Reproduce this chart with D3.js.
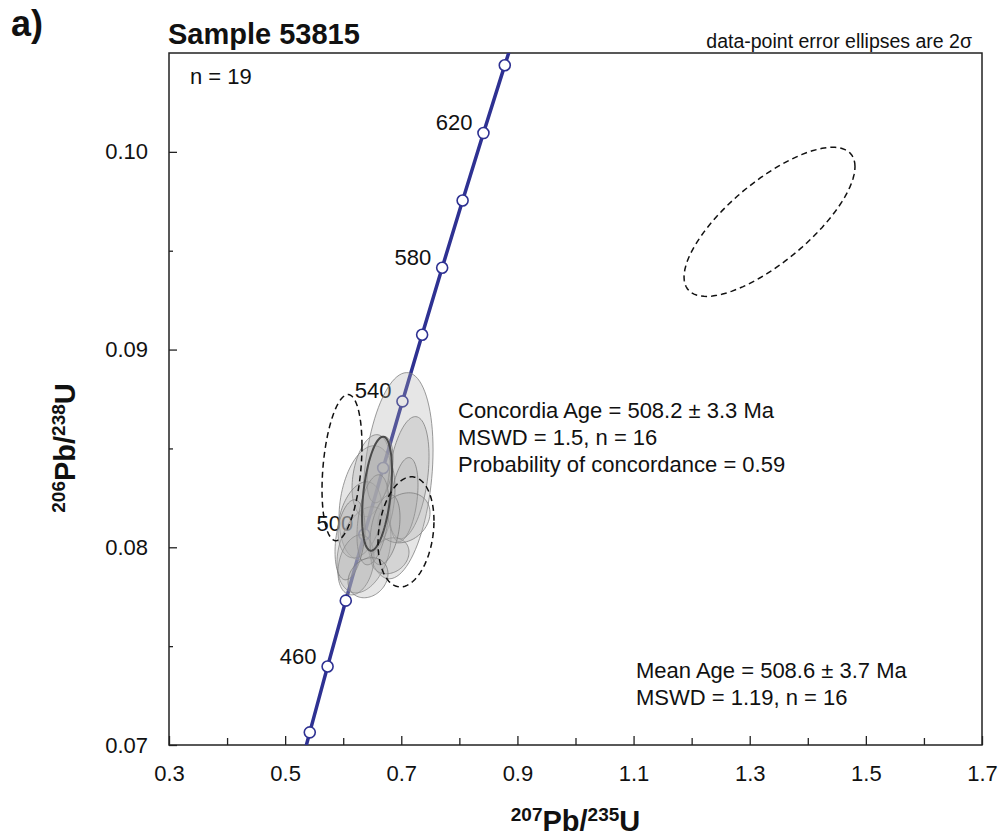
<!DOCTYPE html>
<html><head><meta charset="utf-8">
<script src="https://cdn.jsdelivr.net/npm/d3@7"></script>
<style>
body{margin:0;background:#fff}
svg{display:block}
text{font-family:Arial,"Liberation Sans",sans-serif;fill:#111}
</style>
</head><body>
<svg id="chart" width="1005" height="840"></svg>
<script>
// ---- Concordia curve (ratios) ----
const concordiaAges = [420,440,460,480,500,520,540,560,580,600,620,640,660];
const concordiaX    = [0.5123,0.5424,0.5731,0.6044,0.6363,0.6688,0.7020,0.7359,0.7704,0.8056,0.8415,0.8782,0.9155];
const concordiaY    = [0.06732,0.07064,0.07397,0.07730,0.08065,0.08401,0.08738,0.09075,0.09414,0.09754,0.10095,0.10438,0.10781];
const markerAges    = [440,460,480,500,520,540,560,580,600,620,640];
const labelAges     = [460,500,540,580,620];

// ---- Data-point error ellipses (centre, half-extent in x and y, correlation) ----
const ellX   = [0.6944,0.7116,0.7047,0.6410,0.6479,0.6358,0.6806,0.7047,0.6289,0.6220,0.6634,0.6513,0.6117,0.6720,0.6427,0.6582];
const ellY   = [0.08362,0.08352,0.08241,0.08225,0.08362,0.07987,0.07957,0.08149,0.08139,0.07911,0.08392,0.08139,0.08038,0.08089,0.07846,0.08271];
const ellA   = [0.0603,0.0362,0.0241,0.0482,0.0327,0.0465,0.0327,0.0448,0.0379,0.0310,0.0224,0.0276,0.0258,0.0258,0.0344,0.0258];
const ellB   = [0.005215,0.003089,0.002127,0.002886,0.002076,0.002177,0.000911,0.001266,0.001924,0.001519,0.001671,0.002278,0.002025,0.001772,0.001013,0.002886];
const ellRho = [0.25,0.35,0.35,0.25,0.3,0.3,0.2,0.2,0.3,0.25,0.35,0.35,0.3,0.35,0.2,0.4];
const ellBold = [false,false,false,false,false,false,false,false,false,false,false,false,false,false,false,true];

// ---- Excluded (dashed) ellipses ----
const excX   = [0.5979,0.7081,1.3341];
const excY   = [0.08403,0.08078,0.09646];
const excA   = [0.0344,0.0482,0.1472];
const excB   = [0.003696,0.002785,0.003772];
const excRho = [0.3,0.2,0.74];

// ---- Axes ----
const xTicks = [0.3,0.4,0.5,0.6,0.7,0.8,0.9,1.0,1.1,1.2,1.3,1.4,1.5,1.6,1.7];
const xTickLabels = [0.3,0.5,0.7,0.9,1.1,1.3,1.5,1.7];
const yTicks = [0.07,0.075,0.08,0.085,0.09,0.095,0.10];
const yTickLabels = [0.07,0.08,0.09,0.10];

const concordiaText = ["Concordia Age = 508.2 \u00B1 3.3 Ma","MSWD = 1.5, n = 16","Probability of concordance = 0.59"];
const meanText = ["Mean Age = 508.6 \u00B1 3.7 Ma","MSWD = 1.19, n = 16"];

const svg = d3.select("#chart");
const L=169, R=982, T=53, B=745;
const x = d3.scaleLinear().domain([0.3,1.7]).range([L,R]);
const y = d3.scaleLinear().domain([0.07,0.105]).range([B,T]);

svg.append("defs").append("clipPath").attr("id","plotclip")
  .append("rect").attr("x",L).attr("y",T).attr("width",R-L).attr("height",B-T);

const near = (a,b)=>Math.abs(a-b)<1e-6;

// x axis
const gx = svg.append("g").attr("transform",`translate(0,${B})`)
  .call(d3.axisBottom(x).tickValues(xTicks).tickSizeInner(-8).tickSizeOuter(0).tickPadding(20)
    .tickFormat(d => xTickLabels.some(v=>near(v,d)) ? d3.format(".1f")(d) : ""));
gx.select(".domain").remove();
gx.selectAll(".tick line").attr("stroke","#222").attr("stroke-width",1.3)
  .attr("y2", d => xTickLabels.some(v=>near(v,d)) ? -9 : -7);
gx.selectAll(".tick text").attr("font-size",22).attr("fill","#111").attr("font-family","Arial, 'Liberation Sans', sans-serif");

// y axis
const gy = svg.append("g").attr("transform",`translate(${L},0)`)
  .call(d3.axisLeft(y).tickValues(yTicks).tickSizeInner(-8).tickSizeOuter(0).tickPadding(21)
    .tickFormat(d => yTickLabels.some(v=>near(v,d)) ? d3.format(".2f")(d) : ""));
gy.select(".domain").remove();
gy.selectAll(".tick line").attr("stroke","#222").attr("stroke-width",1.3)
  .attr("x2", d => yTickLabels.some(v=>near(v,d)) ? 8 : 4);
gy.selectAll(".tick text").attr("font-size",22).attr("fill","#111").attr("font-family","Arial, 'Liberation Sans', sans-serif");

// frame
svg.append("rect").attr("x",L).attr("y",T).attr("width",R-L).attr("height",B-T)
  .attr("fill","none").attr("stroke","#222").attr("stroke-width",1.5);

const plot = svg.append("g").attr("clip-path","url(#plotclip)");

// concordia
const concPts = concordiaAges.map((a,i)=>[concordiaX[i],concordiaY[i]]);
plot.append("path").datum(concPts)
  .attr("d", d3.line().x(d=>x(d[0])).y(d=>y(d[1])).curve(d3.curveNatural))
  .attr("fill","none").attr("stroke","#2E3192").attr("stroke-width",3.5);

const markerData = markerAges.map(a=>{const i=concordiaAges.indexOf(a);return {age:a,x:concordiaX[i],y:concordiaY[i]};});
plot.selectAll("circle.mk").data(markerData).join("circle").attr("class","mk")
  .attr("cx",d=>x(d.x)).attr("cy",d=>y(d.y)).attr("r",5.5)
  .attr("fill","#fff").attr("stroke","#2E3192").attr("stroke-width",1.6);

// age labels
svg.selectAll("text.age").data(markerData.filter(d=>labelAges.includes(d.age))).join("text").attr("class","age")
  .attr("x",d=>x(d.x)-11).attr("y",d=>y(d.y)-3).attr("text-anchor","end").attr("font-size",22)
  .text(d=>d.age);

// ellipse path generator
function ellipsePts(cx,cy,a,b,rho){
  const pts=[]; const s=Math.sqrt(1-rho*rho);
  for(let k=0;k<90;k++){const t=2*Math.PI*k/90;
    pts.push([cx+a*Math.cos(t), cy+b*(rho*Math.cos(t)+s*Math.sin(t))]);}
  return pts;
}
const eline = d3.line().x(d=>x(d[0])).y(d=>y(d[1])).curve(d3.curveLinearClosed);

const ells = ellX.map((v,i)=>({pts:ellipsePts(v,ellY[i],ellA[i],ellB[i],ellRho[i]),bold:ellBold[i]}));
svg.append("g").attr("clip-path","url(#plotclip)")
  .selectAll("path.ell").data(ells).join("path").attr("class","ell")
  .attr("d",d=>eline(d.pts))
  .attr("fill","#acacac").attr("fill-opacity",0.3)
  .attr("stroke",d=>d.bold?"#444":"#7a7a7a").attr("stroke-opacity",d=>d.bold?0.95:0.75)
  .attr("stroke-width",d=>d.bold?2:1);

const excs = excX.map((v,i)=>ellipsePts(v,excY[i],excA[i],excB[i],excRho[i]));
svg.append("g").attr("clip-path","url(#plotclip)")
  .selectAll("path.exc").data(excs).join("path").attr("class","exc")
  .attr("d",d=>eline(d)).attr("fill","none").attr("stroke","#111")
  .attr("stroke-width",1.5).attr("stroke-dasharray","6,4");

// annotations
svg.append("text").attr("x",11).attr("y",36).attr("font-size",36).attr("font-weight","bold").text("a)");
svg.append("text").attr("x",168).attr("y",44).attr("font-size",29).attr("font-weight","bold").text("Sample 53815");
svg.append("text").attr("x",972).attr("y",48).attr("font-size",19.5).attr("text-anchor","end")
  .text("data-point error ellipses are 2\u03C3");
svg.append("text").attr("x",190).attr("y",84).attr("font-size",22).text("n = 19");

svg.selectAll("text.conc").data(concordiaText).join("text").attr("class","conc")
  .attr("x",458).attr("y",(d,i)=>418+i*27).attr("font-size",22).text(d=>d);
svg.selectAll("text.mean").data(meanText).join("text").attr("class","mean")
  .attr("x",636).attr("y",(d,i)=>678+i*27).attr("font-size",22).text(d=>d);

// axis titles
const xt = svg.append("text").attr("x",(L+R)/2).attr("y",831).attr("text-anchor","middle")
  .attr("font-weight","bold").attr("font-size",29);
xt.append("tspan").attr("font-size",19).attr("dy",-10).text("207");
xt.append("tspan").attr("dy",10).text("Pb/");
xt.append("tspan").attr("font-size",19).attr("dy",-10).text("235");
xt.append("tspan").attr("dy",10).text("U");

const yt = svg.append("text").attr("transform",`translate(75,448) rotate(-90)`).attr("text-anchor","middle")
  .attr("font-weight","bold").attr("font-size",29);
yt.append("tspan").attr("font-size",19).attr("dy",-10).text("206");
yt.append("tspan").attr("dy",10).text("Pb/");
yt.append("tspan").attr("font-size",19).attr("dy",-10).text("238");
yt.append("tspan").attr("dy",10).text("U");
</script>
</body></html>
